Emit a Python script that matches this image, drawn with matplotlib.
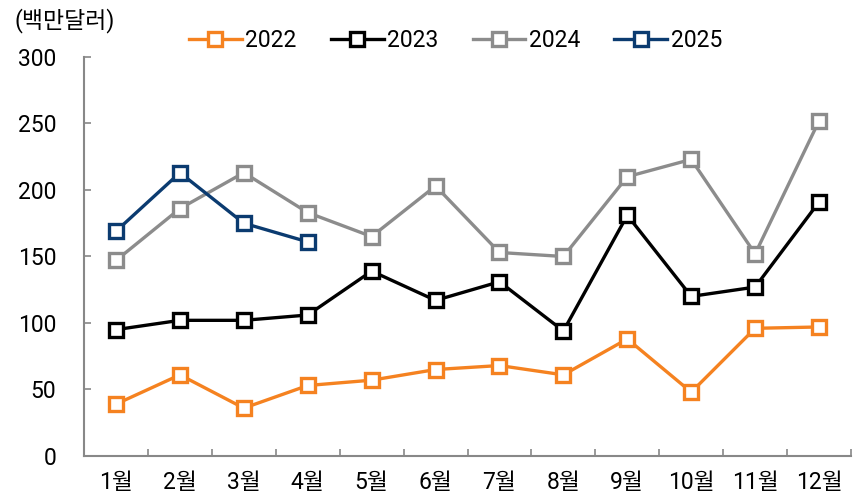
import matplotlib.pyplot as plt

plt.rcParams['font.family'] = ['Roboto', 'Noto Sans CJK KR', 'DejaVu Sans']

months = ["1월", "2월", "3월", "4월", "5월", "6월", "7월", "8월", "9월", "10월", "11월", "12월"]
y2022 = [39, 61, 36, 53, 57, 65, 68, 61, 88, 48, 96, 97]
y2023 = [95, 102, 102, 106, 139, 117, 131, 94, 181, 120, 127, 191]
y2024 = [147, 186, 213, 183, 165, 203, 153, 150, 210, 223, 152, 252]
y2025 = [169, 213, 175, 161]

series = [
    ("2022", y2022, "#F58220"),
    ("2023", y2023, "#000000"),
    ("2024", y2024, "#8C8C8C"),
    ("2025", y2025, "#0B3B70"),
]

fig = plt.figure(figsize=(8.61, 4.99), dpi=100)
ax = fig.add_axes([0.0976, 0.0862, 0.8908, 0.7996])

x = list(range(len(months)))
for name, vals, color in series:
    ax.plot(x[:len(vals)], vals, color=color, lw=2.4, marker="s", ms=9.5,
            mfc="white", mec=color, mew=2.4, label=name)

ax.set_xlim(-0.5, 11.5)
ax.set_ylim(0, 300)
ax.set_yticks(range(0, 301, 50))
ax.set_xticks(x)
ax.set_xticklabels(months)
ax.set_xticks([i + 0.5 for i in range(-1, 12)], minor=True)
ax.tick_params(axis="x", which="major", length=0, pad=11, labelsize=16.5)
ax.tick_params(axis="x", which="minor", direction="in", length=5, color="#888888", width=1.2)
ax.tick_params(axis="y", direction="in", length=5, color="#888888", width=1.2, pad=20, labelsize=16.5)
for s in ["top", "right"]:
    ax.spines[s].set_visible(False)
for s in ["left", "bottom"]:
    ax.spines[s].set_color("#888888")
    ax.spines[s].set_linewidth(1.5)

fig.text(0.017, 0.958, "(백만달러)", fontsize=16.5, va="center", ha="left")
fig.legend(loc="center", bbox_to_anchor=(0.529, 0.918), ncol=4, frameon=False,
           fontsize=16.5, handlelength=2.3, handletextpad=0.15, columnspacing=1.5)

fig.savefig("out.png", dpi=100)
